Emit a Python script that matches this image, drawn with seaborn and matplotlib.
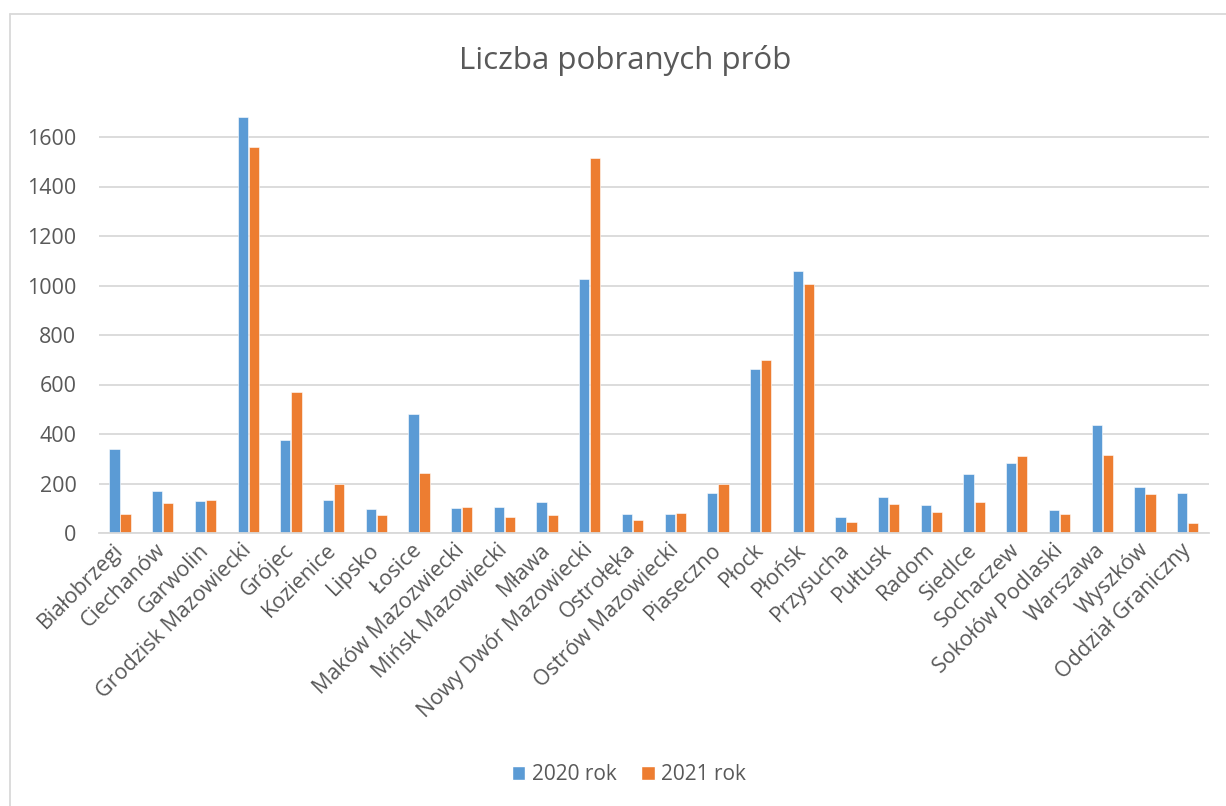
import pandas as pd
import matplotlib
matplotlib.use("Agg")
import matplotlib.pyplot as plt
from matplotlib.patches import Patch
from matplotlib.lines import Line2D
import seaborn as sns

#                               DATA
powiaty = ["Białobrzegi", "Ciechanów", "Garwolin", "Grodzisk Mazowiecki", "Grójec",
           "Kozienice", "Lipsko", "Łosice", "Maków Mazozwiecki", "Mińsk Mazowiecki",
           "Mława", "Nowy Dwór Mazowiecki", "Ostrołęka", "Ostrów Mazowiecki", "Piaseczno",
           "Płock", "Płońsk", "Przysucha", "Pułtusk", "Radom", "Siedlce", "Sochaczew",
           "Sokołów Podlaski", "Warszawa", "Wyszków", "Oddział Graniczny"]
rok_2020 = [341, 171, 129, 1680, 374, 132, 96, 481, 101, 104, 127, 1026, 78, 78,
            160, 661, 1060, 65, 144, 114, 237, 284, 93, 435, 186, 160]
rok_2021 = [78, 123, 132, 1558, 568, 198, 74, 244, 106, 65, 71, 1517, 54, 79,
            198, 698, 1005, 44, 119, 86, 127, 311, 78, 315, 156, 42]
serie = ["2020 rok", "2021 rok"]
kolory = ["#5B9BD5", "#ED7D31"]
title = "Liczba pobranych prób"

df = pd.DataFrame({
    "Powiat": powiaty * 2,
    "Rok": [serie[0]] * len(powiaty) + [serie[1]] * len(powiaty),
    "Liczba": rok_2020 + rok_2021,
})

#                               PLOT
sns.set_theme(style="white")
plt.rcParams["font.family"] = ["Open Sans", "DejaVu Sans"]
txt = "#595959"
grid = "#D9D9D9"
fs = 15.5

W, H = 1226, 806
fig = plt.figure(figsize=(W / 100, H / 100), dpi=100)
ax = fig.add_axes([98.7 / W, 1 - 533 / H, (1209 - 98.7) / W, (533 - 112.25) / H])

sns.barplot(data=df, x="Powiat", y="Liczba", hue="Rok", palette=kolory,
            saturation=1, width=0.52, gap=0.08, edgecolor="white", linewidth=0.4,
            legend=False, ax=ax)

ax.set_ylim(0, 1700)
ax.set_xlim(-0.5, len(powiaty) - 0.5)
ax.set_yticks(range(0, 1601, 200))
ax.yaxis.grid(True, color=grid, linewidth=1.3)
ax.set_axisbelow(True)
for s in ["top", "right", "left"]:
    ax.spines[s].set_visible(False)
ax.spines["bottom"].set_color(grid)
ax.spines["bottom"].set_linewidth(1.3)
ax.set_xlabel("")
ax.set_ylabel("")
ax.tick_params(axis="y", length=0, pad=16, labelsize=fs, labelcolor=txt)
ax.tick_params(axis="x", length=0, pad=10, labelsize=fs, labelcolor=txt)
plt.setp(ax.get_xticklabels(), rotation=45, ha="right", va="center",
         rotation_mode="anchor")

fig.text(625.5 / W, 1 - 69 / H, title, ha="center", va="baseline",
         fontsize=22.5, color=txt)

handles = [Patch(facecolor=c, label=s) for c, s in zip(kolory, serie)]
fig.legend(handles=handles, loc="center", bbox_to_anchor=(629 / W, 1 - 775 / H),
           ncol=2, frameon=False, fontsize=15, labelcolor=txt,
           handlelength=0.65, handleheight=0.65, handletextpad=0.3,
           columnspacing=1.2)

# chart frame (left and top edge visible)
fig.add_artist(Line2D([10 / W, 10 / W], [0, 1 - 13.7 / H], color=grid, lw=1.3))
fig.add_artist(Line2D([10 / W, 1], [1 - 13.7 / H, 1 - 13.7 / H], color=grid, lw=1.3))

fig.savefig("out.png", dpi=100, facecolor="white")
